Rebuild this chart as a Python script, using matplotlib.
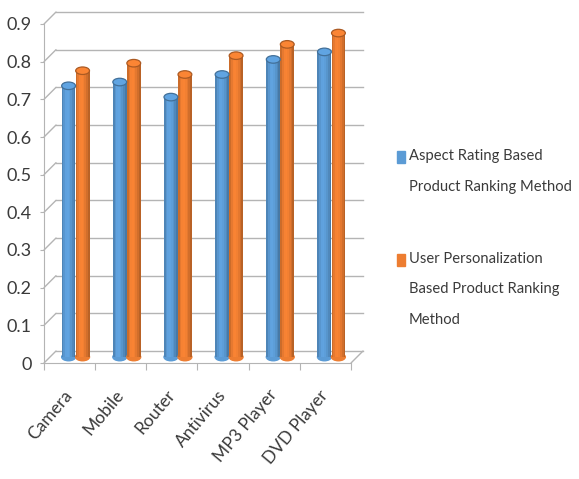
import matplotlib
matplotlib.use('Agg')
import matplotlib.pyplot as plt
import matplotlib.transforms as mtransforms
from matplotlib.patches import Ellipse, Rectangle
from matplotlib.colors import to_rgb
import numpy as np

# Chart data
categories = ['Camera', 'Mobile', 'Router', 'Antivirus', 'MP3 Player', 'DVD Player']
aspect_rating = [0.72, 0.73, 0.69, 0.75, 0.79, 0.81]
user_personal = [0.76, 0.78, 0.75, 0.80, 0.83, 0.86]
y_ticks = [0, 0.1, 0.2, 0.3, 0.4, 0.5, 0.6, 0.7, 0.8, 0.9]
y_labels = ['0', '0.1', '0.2', '0.3', '0.4', '0.5', '0.6', '0.7', '0.8', '0.9']
series_labels = ['Aspect Rating Based\nProduct Ranking Method',
                 'User Personalization\nBased Product Ranking\nMethod']

# Style
DPI = 100
W, H = 579, 479
BLUE = '#5B9BD5'
ORANGE = '#ED7D31'
GRID = '#B4B4B4'
TEXT = '#3A3A3A'
plt.rcParams['font.family'] = ['Lato', 'DejaVu Sans']

fig = plt.figure(figsize=(W / DPI, H / DPI), dpi=DPI)
ax = fig.add_axes([44 / W, (H - 363) / H, 307 / W, 339 / H])
ax.set_xlim(0, len(categories))
ax.set_ylim(0, 0.9)


def shifted(dx, dy):
    """Data transform moved by (dx, dy) pixels - fakes the 3D depth."""
    return ax.transData + mtransforms.ScaledTranslation(dx / DPI, dy / DPI, fig.dpi_scale_trans)


DEPTH = 12
back = shifted(DEPTH, DEPTH)
middle = shifted(6, 6)

# back wall gridlines + left wall connectors
line_kw = dict(arrowstyle='-', color=GRID, lw=1, shrinkA=0, shrinkB=0)
for v in y_ticks:
    ax.plot([0, len(categories)], [v, v], color=GRID, lw=1, transform=back,
            zorder=1, clip_on=False)
    ax.annotate('', xy=(0, v), xytext=(DEPTH, DEPTH), textcoords='offset pixels',
                arrowprops=line_kw, annotation_clip=False)
# right edge of the floor
ax.annotate('', xy=(len(categories), 0), xytext=(DEPTH, DEPTH), textcoords='offset pixels',
            arrowprops=line_kw, annotation_clip=False)

# axes frame
for side in ['top', 'right']:
    ax.spines[side].set_visible(False)
for side in ['left', 'bottom']:
    ax.spines[side].set_color(GRID)
ax.set_facecolor('none')
ax.set_yticks(y_ticks, y_labels)
ax.set_xticks(np.arange(len(categories) + 1))
ax.set_xticklabels([])
ax.set_xticks(np.arange(len(categories)) + 0.5, categories, minor=True)
ax.tick_params(axis='y', length=3, color=GRID, labelsize=13, labelcolor=TEXT, pad=6)
ax.tick_params(axis='x', which='major', length=5, color=GRID)
ax.tick_params(axis='x', which='minor', length=0, labelsize=12.5, labelcolor=TEXT, pad=21)
for lab in ax.get_xticklabels(minor=True):
    lab.set_rotation(50)
    lab.set_ha('right')
    lab.set_va('center')
    lab.set_rotation_mode('anchor')

# cylinder bars (vertical strips give the round shading)
shade = [0.86, 0.97, 1.04, 1.05, 1.02, 0.96, 0.88, 0.78]
bar_w = 0.27
ell_h = 0.02
x = np.arange(len(categories)) + 0.5
for vals, base, off in [(aspect_rating, BLUE, -0.137), (user_personal, ORANGE, 0.137)]:
    rgb = np.array(to_rgb(base))
    n = len(shade)
    left = x + off - bar_w / 2
    # rounded bottom
    for xc in x + off:
        e = Ellipse((xc, 0), bar_w, ell_h, color=base, zorder=3)
        e.set_transform(middle)
        ax.add_patch(e)
    for k, f in enumerate(shade):
        bars = ax.bar(left + (k + 0.5) * bar_w / n, vals, width=bar_w / n * 1.02,
                      color=np.clip(rgb * f, 0, 1), linewidth=0, zorder=3)
        for b in bars:
            b.set_transform(middle)
    # top cap
    for xc, v in zip(x + off, vals):
        e = Ellipse((xc, v), bar_w, ell_h, facecolor=np.clip(rgb * 1.06, 0, 1),
                    edgecolor=np.clip(rgb * 0.72, 0, 1), lw=0.9, zorder=4)
        e.set_transform(middle)
        ax.add_patch(e)

# legend drawn by hand to match the layout
legend_items = [(BLUE, series_labels[0], 151), (ORANGE, series_labels[1], 254)]
for color, text, top in legend_items:
    fig.add_artist(Rectangle((397 / W, 1 - (top + 12) / H), 8 / W, 12 / H,
                             transform=fig.transFigure, color=color))
    fig.text(409 / W, 1 - (top - 2) / H, text, ha='left', va='top', fontsize=10.6,
             color=TEXT, linespacing=2.5)

fig.savefig('out.png', dpi=DPI)
